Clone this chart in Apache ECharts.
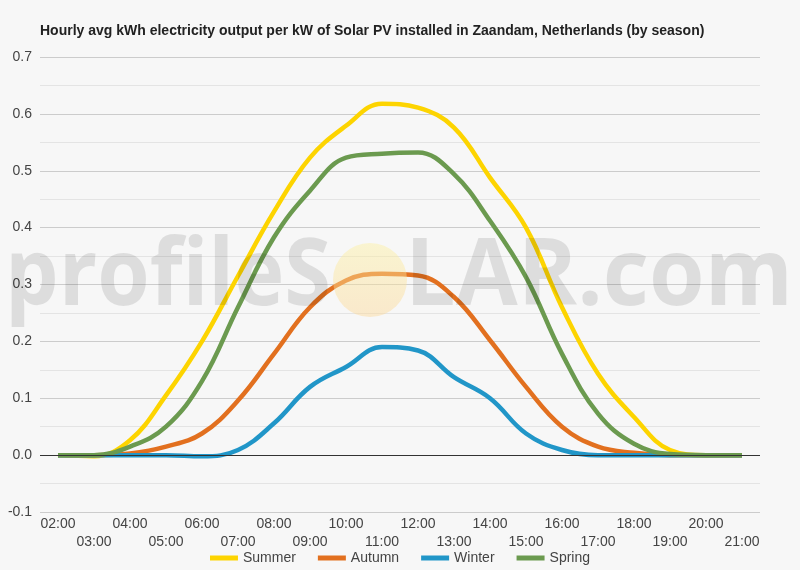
<!DOCTYPE html>
<html>
<head>
<meta charset="utf-8">
<script src="https://cdn.jsdelivr.net/npm/echarts@6/dist/echarts.min.js"></script>
<style>
  html, body { margin: 0; padding: 0; background: #f7f7f7; }
  #chart { width: 800px; height: 570px; }
</style>
</head>
<body>
<div id="chart"></div>
<script>
// hours on the x axis
var hours = ['02:00', '03:00', '04:00', '05:00', '06:00', '07:00', '08:00', '09:00', '10:00', '11:00',
             '12:00', '13:00', '14:00', '15:00', '16:00', '17:00', '18:00', '19:00', '20:00', '21:00'];

// hourly avg kWh per kW installed, per season
var summer = [0, -0.002, 0.026, 0.105, 0.200, 0.315, 0.428, 0.523, 0.579, 0.618,
              0.611, 0.576, 0.488, 0.400, 0.260, 0.143, 0.067, 0.009, 0, 0];
var autumn = [0, 0, 0.003, 0.015, 0.038, 0.096, 0.178, 0.260, 0.307, 0.319,
              0.316, 0.278, 0.202, 0.120, 0.050, 0.015, 0.004, 0, 0, 0];
var winter = [0, 0, 0, 0, -0.002, 0.009, 0.056, 0.120, 0.155, 0.190,
              0.184, 0.137, 0.100, 0.038, 0.009, 0, 0, 0, 0, 0];
var spring = [0, 0, 0.015, 0.050, 0.130, 0.260, 0.383, 0.465, 0.523, 0.530,
              0.532, 0.494, 0.412, 0.313, 0.178, 0.073, 0.020, 0.002, 0, 0];

var seasons = ['Summer', 'Autumn', 'Winter', 'Spring'];
var colors = ['#fdd400', '#e2701f', '#2196c8', '#6b9a4f'];
var values = [summer, autumn, winter, spring];

var labelStyle = { color: '#444', fontSize: 14, fontFamily: 'Liberation Sans, Arial, sans-serif' };
var markFamily = '"Open Sans", "Noto Sans", sans-serif';
var markSize = 94;
var markFill = 'rgba(0,0,0,0.1)';

// squeeze the watermark words to the width they take in the picture
var ctx = document.createElement('canvas').getContext('2d');
ctx.font = 'bold ' + markSize + 'px ' + markFamily;
function fitScale(text, width) {
    return width / ctx.measureText(text).width;
}

function markText(text, x, align, width) {
    return {
        type: 'text',
        z: 100,
        x: x,
        y: 278,
        originX: 0,
        scaleX: fitScale(text, width),
        silent: true,
        style: {
            text: text,
            fontFamily: markFamily,
            fontSize: markSize,
            fontWeight: 'bold',
            fill: markFill,
            textAlign: align,
            textVerticalAlign: 'middle'
        }
    };
}

var series = [{
    // just carries the dark zero line, drawn under the seasons
    name: 'zero',
    type: 'line',
    data: [],
    silent: true,
    markLine: {
        silent: true,
        symbol: 'none',
        label: { show: false },
        lineStyle: { color: '#333', width: 1, type: 'solid' },
        data: [{ yAxis: 0 }]
    }
}];

seasons.forEach(function (name, i) {
    series.push({
        name: name,
        type: 'line',
        data: values[i],
        smooth: 0.4,
        showSymbol: false,
        symbol: 'none',
        lineStyle: { color: colors[i], width: 4.5 },
        itemStyle: { color: colors[i] }
    });
});

var option = {
    backgroundColor: '#f7f7f7',
    animation: false,
    title: {
        text: 'Hourly avg kWh electricity output per kW of Solar PV installed in Zaandam, Netherlands (by season)',
        left: 35,
        top: 19,
        textStyle: { color: '#222', fontSize: 14, fontWeight: 'bold', fontFamily: 'Liberation Sans, Arial, sans-serif' }
    },
    legend: {
        data: seasons,
        bottom: 0,
        icon: 'rect',
        itemWidth: 28,
        itemHeight: 5,
        itemGap: 22,
        textStyle: labelStyle
    },
    grid: { left: 40, right: 40, top: 57, bottom: 58 },
    xAxis: {
        type: 'category',
        data: hours,
        boundaryGap: true,
        axisLine: { show: false },
        axisTick: { show: false },
        axisLabel: Object.assign({
            interval: 0,
            margin: 3,
            lineHeight: 18,
            formatter: function (v, idx) { return idx % 2 ? '\n' + v : v; }
        }, labelStyle)
    },
    yAxis: {
        type: 'value',
        min: -0.1,
        max: 0.7,
        interval: 0.1,
        axisLine: { show: false },
        axisTick: { show: false },
        axisLabel: Object.assign({
            margin: 8,
            formatter: function (v) { return v.toFixed(1); }
        }, labelStyle),
        splitLine: { lineStyle: { color: '#cccccc', width: 1 } },
        minorTick: { show: false, splitNumber: 2 },
        minorSplitLine: { show: true, lineStyle: { color: '#e4e4e4', width: 1 } }
    },
    graphic: {
        elements: [
            markText('profileS', 331, 'right', 326),
            {
                type: 'circle',
                z: 100,
                silent: true,
                shape: { cx: 370, cy: 280, r: 37 },
                style: {
                    fill: {
                        type: 'linear', x: 0, y: 0, x2: 0, y2: 1,
                        colorStops: [
                            { offset: 0, color: 'rgba(252,240,160,0.45)' },
                            { offset: 1, color: 'rgba(252,215,150,0.45)' }
                        ]
                    }
                }
            },
            markText('LAR.com', 405, 'left', 388)
        ]
    },
    series: series
};

var myChart = echarts.init(document.getElementById('chart'));
myChart.setOption(option);
</script>
</body>
</html>
